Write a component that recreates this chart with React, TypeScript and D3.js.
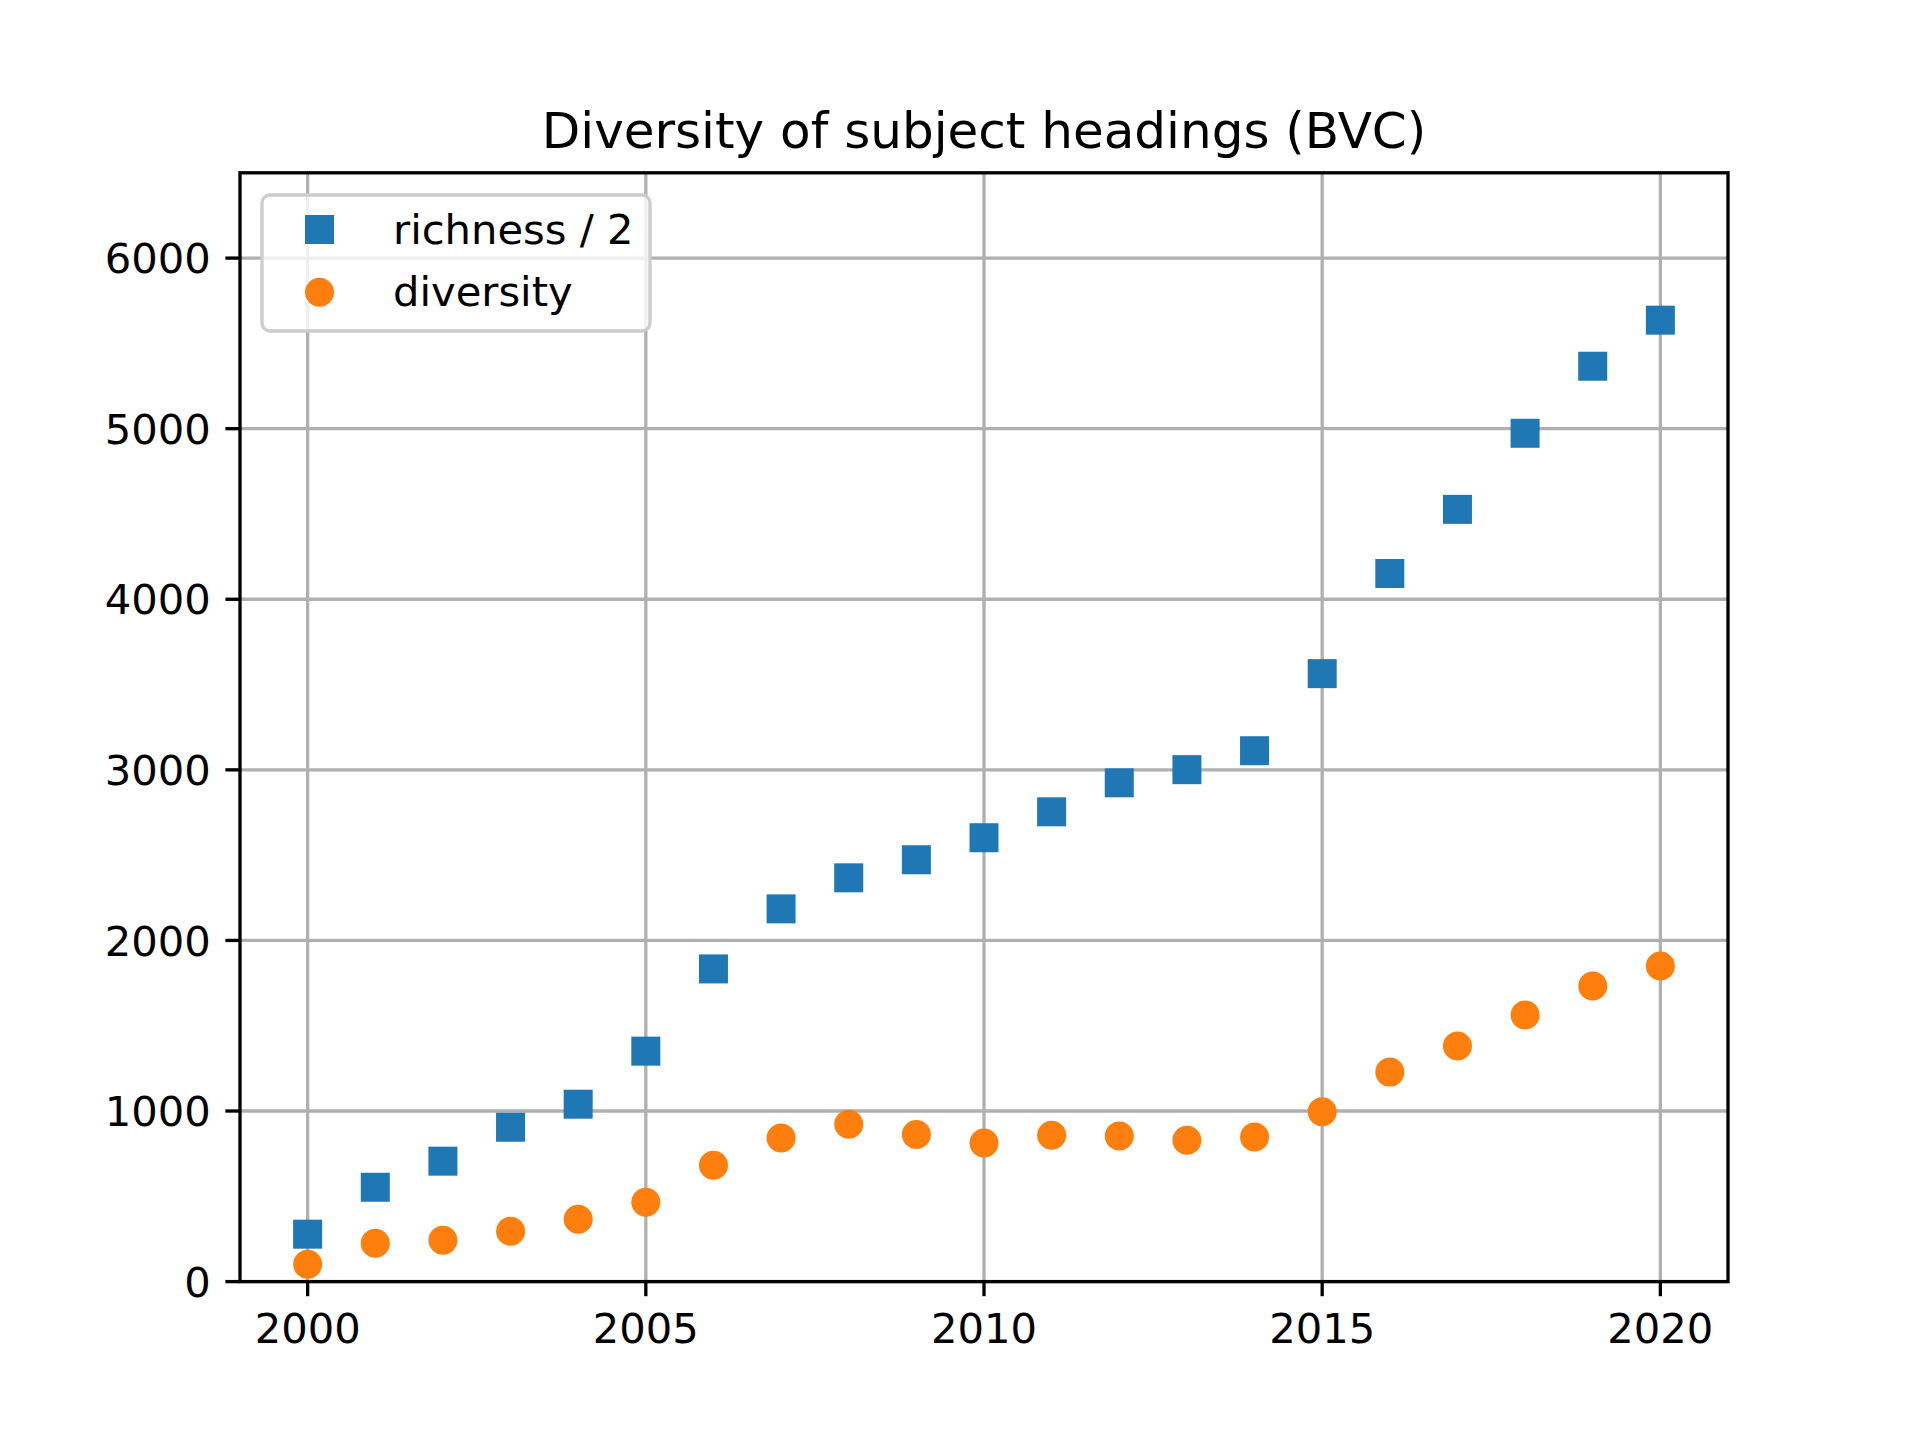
import { scaleLinear } from 'd3';

const years = [2000, 2001, 2002, 2003, 2004, 2005, 2006, 2007, 2008, 2009, 2010, 2011, 2012, 2013, 2014, 2015, 2016, 2017, 2018, 2019, 2020];
const richnessHalf = [278, 553, 706, 905, 1040, 1351, 1833, 2185, 2367, 2473, 2602, 2754, 2924, 3001, 3112, 3564, 4151, 4527, 4973, 5366, 5636];
const diversity = [101, 225, 242, 295, 365, 465, 682, 842, 923, 863, 812, 858, 853, 829, 847, 995, 1228, 1381, 1563, 1733, 1850];
const xTicks = [2000, 2005, 2010, 2015, 2020];
const yTicks = [0, 1000, 2000, 3000, 4000, 5000, 6000];
const seriesLabels = ['richness / 2', 'diversity'];

const W = 1920;
const H = 1440;
const left = 240;
const right = 1728;
const top = 172.8;
const bottom = 1281.6;
const font = 'DejaVu Sans, sans-serif';
const blue = '#1f77b4';
const orange = '#ff7f0e';
const marker = 29;

export default function App() {
  const x = scaleLinear().domain([1999, 2021]).range([left, right]);
  const y = scaleLinear().domain([0, 6500]).range([bottom, top]);

  return (
    <svg width={W} height={H} style={{ position: 'absolute', left: 0, top: 0, background: '#fff' }} fontFamily={font}>
      <rect width={W} height={H} fill="#fff" />
      {/* grid */}
      <g stroke="#b0b0b0" strokeWidth={3.33}>
        {xTicks.map((t) => (
          <line key={`gx${t}`} x1={x(t)} x2={x(t)} y1={top} y2={bottom} />
        ))}
        {yTicks.map((t) => (
          <line key={`gy${t}`} x1={left} x2={right} y1={y(t)} y2={y(t)} />
        ))}
      </g>
      {/* points */}
      <g fill={blue}>
        {years.map((yr, i) => (
          <rect key={`s${yr}`} x={x(yr) - marker / 2} y={y(richnessHalf[i]) - marker / 2} width={marker} height={marker} />
        ))}
      </g>
      <g fill={orange}>
        {years.map((yr, i) => (
          <circle key={`c${yr}`} cx={x(yr)} cy={y(diversity[i])} r={marker / 2} />
        ))}
      </g>
      {/* spines */}
      <rect x={left} y={top} width={right - left} height={bottom - top} fill="none" stroke="#000" strokeWidth={3.33} />
      {/* x axis */}
      <g>
        {xTicks.map((t) => (
          <g key={`xt${t}`}>
            <line x1={x(t)} x2={x(t)} y1={bottom} y2={bottom + 14.6} stroke="#000" strokeWidth={3.33} />
            <text x={x(t)} y={1343} textAnchor="middle" fontSize={41.67} fill="#000">
              {t}
            </text>
          </g>
        ))}
      </g>
      {/* y axis */}
      <g>
        {yTicks.map((t) => (
          <g key={`yt${t}`}>
            <line x1={left - 14.6} x2={left} y1={y(t)} y2={y(t)} stroke="#000" strokeWidth={3.33} />
            <text x={left - 29.2} y={y(t) + 15.2} textAnchor="end" fontSize={41.67} fill="#000">
              {t}
            </text>
          </g>
        ))}
      </g>
      {/* title */}
      <text x={(left + right) / 2} y={148} textAnchor="middle" fontSize={50} fill="#000">
        Diversity of subject headings (BVC)
      </text>
      {/* legend */}
      <g>
        <rect x={262} y={195} width={388} height={136} rx={8} fill="#fff" fillOpacity={0.8} stroke="#cccccc" strokeWidth={3.33} />
        <rect x={319.5 - marker / 2} y={229.5 - marker / 2} width={marker} height={marker} fill={blue} />
        <circle cx={319.5} cy={292.2} r={marker / 2} fill={orange} />
        <text x={393} y={244} fontSize={41.67} fill="#000">
          {seriesLabels[0]}
        </text>
        <text x={393} y={305.7} fontSize={41.67} fill="#000">
          {seriesLabels[1]}
        </text>
      </g>
    </svg>
  );
}
